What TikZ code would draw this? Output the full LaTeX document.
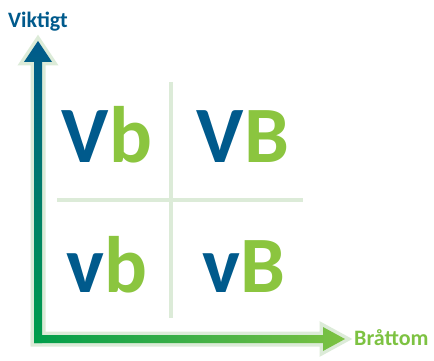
\documentclass[tikz,border=0pt]{standalone}
\usepackage{fontspec}
\setmainfont{Carlito}
\definecolor{vblue}{RGB}{0,90,140}
\definecolor{bgreen}{RGB}{139,197,63}
\definecolor{dgreen}{RGB}{0,158,75}
\definecolor{lgreen}{RGB}{125,194,66}
\definecolor{halo}{RGB}{220,235,216}
\begin{document}
\begin{tikzpicture}[x=1pt, y=-1pt, big/.style={anchor=base, inner sep=0pt, font=\fontsize{80}{80}\selectfont\bfseries}, axlabel/.style={inner sep=0pt, font=\fontsize{22}{22}\selectfont\bfseries}]
	\useasboundingbox (0,0) rectangle (434,361);
	% 1. grid lines
	\draw[halo, line width=4pt] (171,82) -- (171,318);
	\draw[halo, line width=4pt] (57,200) -- (303,200);
	
	% 2. halo behind the axes
	\draw[halo, line width=7pt, line join=miter] (34,342) -- (34,62) -- (24,62) -- (38,41) -- (52,62) -- (42,62) -- (42,342) -- cycle;
	\draw[halo, line width=7pt, line join=miter] (34,335) -- (323,335) -- (323,327) -- (345,339) -- (323,351) -- (323,343) -- (34,343) -- cycle;
	
	% 3. axes (shaded)
	\shade[top color=vblue, middle color=vblue!75!dgreen, bottom color=dgreen] (34,343) -- (34,62) -- (24,62) -- (38,41) -- (52,62) -- (42,62) -- (42,343) -- cycle;
	\shade[left color=dgreen, right color=lgreen] (34,335) -- (323,335) -- (323,327) -- (345,339) -- (323,351) -- (323,343) -- (34,343) -- cycle;
	
	% 4. axis labels
	\node[axlabel, anchor=base, text=vblue] (viktigt) at (38,28) {Viktigt};
	\node[axlabel, anchor=base west, text=lgreen] (brattom) at (354,345) {Bråttom};
	
	% 5. quadrant letters
	\node[big] (Vb) at (107,162) {\textcolor{vblue}{V}\textcolor{bgreen}{b}};
	\node[big] (VB) at (243,162) {\textcolor{vblue}{V}\textcolor{bgreen}{B}};
	\node[big] (vb) at (107,292) {\textcolor{vblue}{v}\textcolor{bgreen}{b}};
	\node[big] (vB) at (244,292) {\textcolor{vblue}{v}\textcolor{bgreen}{B}};
\end{tikzpicture}
\end{document}
